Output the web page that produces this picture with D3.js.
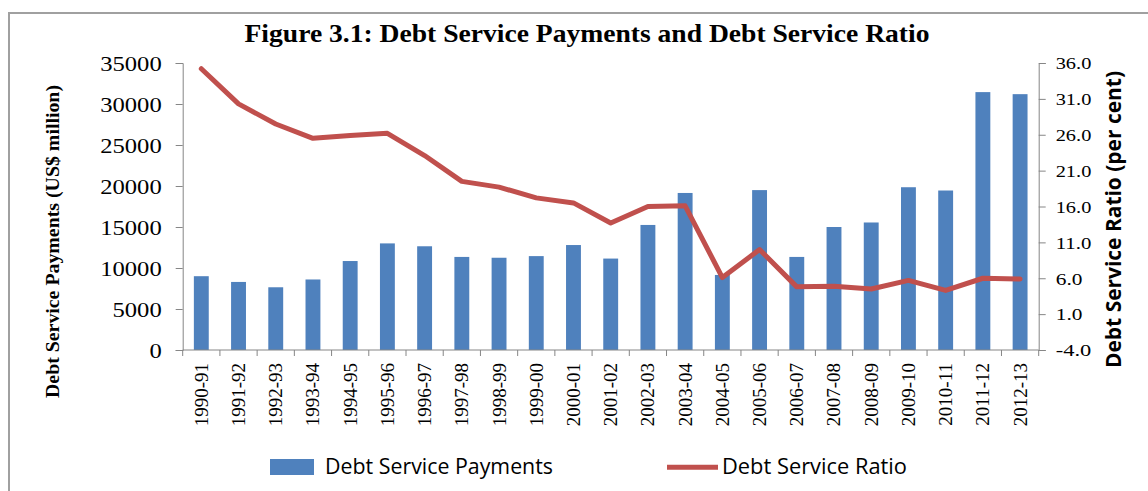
<!DOCTYPE html>
<html>
<head>
<meta charset="utf-8">
<script src="https://cdn.jsdelivr.net/npm/d3@7/dist/d3.min.js"></script>
<style>
  html, body { margin: 0; padding: 0; background: #ffffff; }
  svg { display: block; }
</style>
</head>
<body>
<svg id="chart" width="1148" height="491"></svg>
<script>
// Fiscal years on the category axis
const categories = ["1990-91","1991-92","1992-93","1993-94","1994-95","1995-96","1996-97",
  "1997-98","1998-99","1999-00","2000-01","2001-02","2002-03","2003-04","2004-05","2005-06",
  "2006-07","2007-08","2008-09","2009-10","2010-11","2011-12","2012-13"];

// Debt service payments, US$ million (bars, left axis)
const payments = [9000, 8300, 7650, 8600, 10850, 13000, 12650, 11350, 11250, 11450, 12800,
  11150, 15250, 19150, 9150, 19500, 11350, 15000, 15550, 19850, 19450, 31450, 31200];

// Debt service ratio, per cent (line, right axis)
const ratio = [35.2, 30.3, 27.5, 25.5, 25.9, 26.2, 23.1, 19.5, 18.7, 17.2, 16.5, 13.7,
  16.0, 16.1, 6.1, 10.0, 4.8, 4.9, 4.5, 5.7, 4.3, 6.0, 5.9];

// Axis ticks
const leftTicks = [0, 5000, 10000, 15000, 20000, 25000, 30000, 35000];
const rightTicks = [-4, 1, 6, 11, 16, 21, 26, 31, 36];
const rightTickLabels = ["-4.0", "1.0", "6.0", "11.0", "16.0", "21.0", "26.0", "31.0", "36.0"];

const svg = d3.select("#chart");
const serif = "'Liberation Serif', 'Times New Roman', serif";
const sans = "'Open Sans', 'Liberation Sans', Arial, sans-serif";
const axisColor = "#868686";
const barColor = "#4F81BD";
const lineColor = "#C0504D";

// Plot area
const plot = { left: 182.7, right: 1038.7, top: 63, bottom: 350 };

// Outer frame (top and left edges)
svg.append("path")
  .attr("d", `M9,491 L9,13 L1148,13`)
  .attr("fill", "none")
  .attr("stroke", "#a0a0a0")
  .attr("stroke-width", 2);

// Scales
const x = d3.scaleBand()
  .domain(categories)
  .range([plot.left, plot.right])
  .paddingInner(0.6)
  .paddingOuter(0.3);

const yL = d3.scaleLinear().domain([0, 35000]).range([plot.bottom, plot.top]);
const yR = d3.scaleLinear().domain([-4, 36]).range([plot.bottom, plot.top]);

// Bars
svg.append("g").selectAll("rect")
  .data(categories)
  .join("rect")
  .attr("x", d => x(d))
  .attr("width", x.bandwidth())
  .attr("y", (d, i) => yL(payments[i]))
  .attr("height", (d, i) => yL(0) - yL(payments[i]))
  .attr("fill", barColor);

// Ratio line
const line = d3.line()
  .x((d, i) => x(categories[i]) + x.bandwidth() / 2)
  .y(d => yR(d));

svg.append("path")
  .datum(ratio)
  .attr("d", line)
  .attr("fill", "none")
  .attr("stroke", lineColor)
  .attr("stroke-width", 5)
  .attr("stroke-linejoin", "round")
  .attr("stroke-linecap", "round");

// Left axis
const gL = svg.append("g")
  .attr("transform", `translate(${plot.left},0)`)
  .call(d3.axisLeft(yL).tickValues(leftTicks).tickSize(7).tickPadding(14).tickFormat(d => String(d)));
gL.selectAll("text")
  .attr("font-family", serif)
  .attr("font-size", 21)
  .attr("fill", "#000")
  .attr("dy", "0.34em")
  .attr("textLength", d => String(d).length * 12.3)
  .attr("lengthAdjust", "spacingAndGlyphs");

// Right axis
const gR = svg.append("g")
  .attr("transform", `translate(${plot.right},0)`)
  .call(d3.axisRight(yR).tickValues(rightTicks).tickSize(7).tickPadding(10)
    .tickFormat((d, i) => rightTickLabels[i]));
gR.selectAll("text")
  .attr("font-family", serif)
  .attr("font-size", 16)
  .attr("fill", "#000")
  .attr("dy", "0.36em")
  .attr("textLength", (d, i) => rightTickLabels[i].length * 8.9)
  .attr("lengthAdjust", "spacingAndGlyphs");

// Category axis with ticks on band boundaries
const gX = svg.append("g")
  .attr("transform", `translate(0,${plot.bottom})`);
gX.append("line")
  .attr("x1", plot.left).attr("x2", plot.right)
  .attr("y1", 0).attr("y2", 0)
  .attr("stroke", axisColor);
const step = x.step();
gX.selectAll("line.tick")
  .data(d3.range(categories.length + 1))
  .join("line")
  .attr("class", "tick")
  .attr("x1", i => plot.left + i * step)
  .attr("x2", i => plot.left + i * step)
  .attr("y1", 0).attr("y2", 6)
  .attr("stroke", axisColor);
gX.selectAll("text")
  .data(categories)
  .join("text")
  .attr("transform", d => `translate(${x(d) + x.bandwidth() / 2},13) rotate(-90)`)
  .attr("text-anchor", "end")
  .attr("dy", "0.34em")
  .attr("font-family", serif)
  .attr("font-size", 19)
  .attr("fill", "#000")
  .text(d => d);

[gL, gR].forEach(g => {
  g.selectAll(".domain").attr("stroke", axisColor);
  g.selectAll(".tick line").attr("stroke", axisColor);
});

// Title
svg.append("text")
  .attr("x", 587)
  .attr("y", 42)
  .attr("text-anchor", "middle")
  .attr("font-family", serif)
  .attr("font-weight", "bold")
  .attr("font-size", 25)
  .attr("textLength", 685)
  .attr("lengthAdjust", "spacingAndGlyphs")
  .text("Figure 3.1: Debt Service Payments and Debt Service Ratio");

// Axis titles
svg.append("text")
  .attr("transform", "translate(59,241.5) rotate(-90)")
  .attr("text-anchor", "middle")
  .attr("font-family", serif)
  .attr("font-weight", "bold")
  .attr("font-size", 18)
  .attr("textLength", 313)
  .attr("lengthAdjust", "spacingAndGlyphs")
  .text("Debt Service Payments (US$ million)");

svg.append("text")
  .attr("transform", "translate(1121,219.5) rotate(-90)")
  .attr("text-anchor", "middle")
  .attr("font-family", sans)
  .attr("font-weight", "bold")
  .attr("font-size", 21)
  .attr("textLength", 297)
  .attr("lengthAdjust", "spacingAndGlyphs")
  .text("Debt Service Ratio (per cent)");

// Legend
const legend = svg.append("g");
legend.append("rect")
  .attr("x", 270).attr("y", 459)
  .attr("width", 44).attr("height", 16)
  .attr("fill", barColor);
legend.append("text")
  .attr("x", 325).attr("y", 474)
  .attr("font-family", sans)
  .attr("font-size", 21)
  .attr("textLength", 228)
  .attr("lengthAdjust", "spacingAndGlyphs")
  .text("Debt Service Payments");
legend.append("line")
  .attr("x1", 667).attr("x2", 718)
  .attr("y1", 467.3).attr("y2", 467.3)
  .attr("stroke", lineColor)
  .attr("stroke-width", 5);
legend.append("text")
  .attr("x", 722).attr("y", 474)
  .attr("font-family", sans)
  .attr("font-size", 21)
  .attr("textLength", 185)
  .attr("lengthAdjust", "spacingAndGlyphs")
  .text("Debt Service Ratio");
</script>
</body>
</html>
